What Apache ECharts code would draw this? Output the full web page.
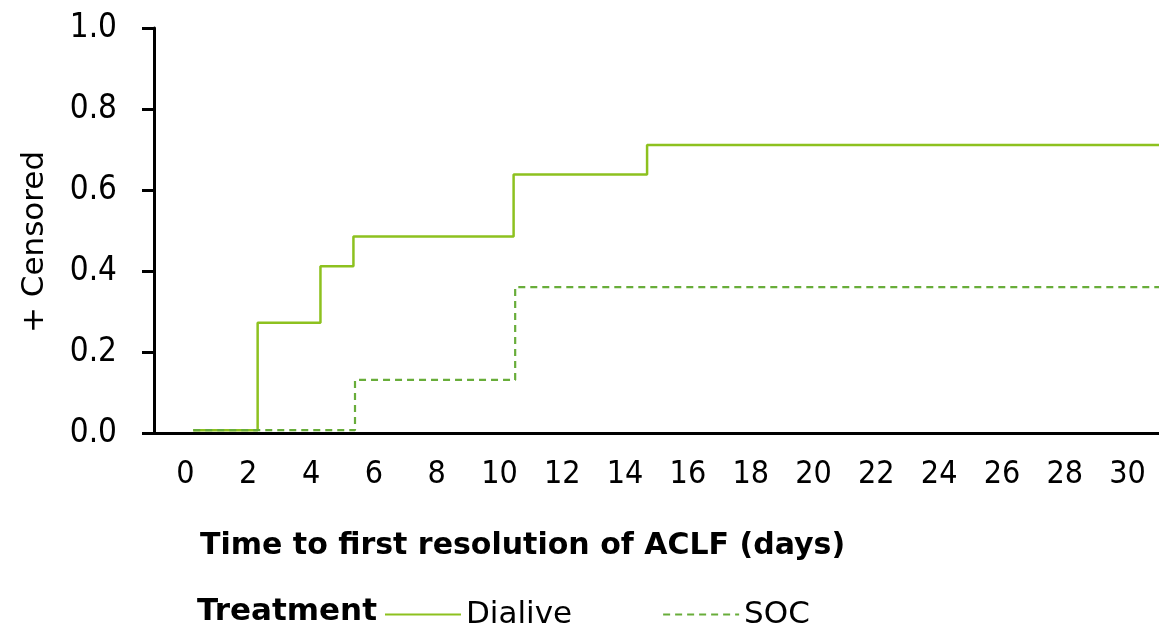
<!DOCTYPE html>
<html><head><meta charset="utf-8">
<script src="https://cdn.jsdelivr.net/npm/echarts@6/dist/echarts.min.js"></script>
<style>html,body{margin:0;padding:0;background:#fff}#c{width:1159px;height:629px}</style>
</head><body><div id="c"></div>
<script>
// Step points [time (days), cumulative probability]
const dialiveTimes  = [0.25, 2.3, 4.3, 5.35, 10.45, 14.7, 31];
const dialiveValues = [0.007, 0.272, 0.412, 0.485, 0.638, 0.711, 0.711];
const socTimes  = [0.25, 5.4, 10.5, 31];
const socValues = [0.007, 0.131, 0.36, 0.36];
const xTicks = [0, 2, 4, 6, 8, 10, 12, 14, 16, 18, 20, 22, 24, 26, 28, 30];
const seriesNames = ['Dialive', 'SOC'];
const xTitle = 'Time to first resolution of ACLF (days)';
const yTitle = '+ Censored';
const legendTitle = 'Treatment';

const FONT = 'DejaVu Sans';
const COND = '"DejaVu Sans Condensed", "DejaVu Sans"';
const chart = echarts.init(document.getElementById('c'));
const zip = (a, b) => a.map((v, i) => [v, b[i]]);

chart.setOption({
  animation: false,
  backgroundColor: '#fff',
  grid: { left: 154, right: 0, top: 28, bottom: 196, containLabel: false },
  xAxis: {
    type: 'value', min: -1, max: 31,
    axisLine: { show: true, onZero: false, lineStyle: { color: '#000', width: 3 } },
    axisTick: { show: false },
    splitLine: { show: false },
    axisLabel: { customValues: xTicks, fontFamily: COND, fontSize: 32, color: '#000', margin: 26 }
  },
  yAxis: {
    type: 'value', min: 0, max: 1, interval: 0.2,
    axisLine: { show: true, onZero: false, lineStyle: { color: '#000', width: 3 } },
    axisTick: { show: true, length: 12, lineStyle: { color: '#000', width: 3 } },
    splitLine: { show: false },
    axisLabel: { fontFamily: COND, fontSize: 33, color: '#000', margin: 37, formatter: v => v.toFixed(1) }
  },
  legend: {
    left: 379, top: 594, itemWidth: 76, itemHeight: 14, itemGap: 90,
    itemStyle: { opacity: 0 },
    textStyle: { fontFamily: FONT, fontSize: 31, color: '#000', padding: [0, 0, 0, 0] },
    data: seriesNames
  },
  graphic: [
    { type: 'text', x: 200, y: 546,
      style: { text: xTitle, font: 'bold 30px "DejaVu Sans"', fill: '#000', textVerticalAlign: 'middle' } },
    { type: 'text', x: 197, y: 612,
      style: { text: legendTitle, font: 'bold 31px "DejaVu Sans"', fill: '#000', textVerticalAlign: 'middle' } },
    { type: 'text', x: 35, y: 242, rotation: Math.PI / 2,
      style: { text: yTitle, font: '31px "DejaVu Sans"', fill: '#000', textAlign: 'center', textVerticalAlign: 'middle' } }
  ],
  series: [
    { name: seriesNames[0], type: 'line', step: 'end', symbol: 'none', data: zip(dialiveTimes, dialiveValues),
      lineStyle: { color: '#8dc11f', width: 2.5, type: 'solid' }, itemStyle: { color: '#8dc11f' } },
    { name: seriesNames[1], type: 'line', step: 'end', symbol: 'none', data: zip(socTimes, socValues),
      lineStyle: { color: '#68ad3a', width: 2.2, type: [7, 5] }, itemStyle: { color: '#68ad3a' } }
  ]
});
</script></body></html>
